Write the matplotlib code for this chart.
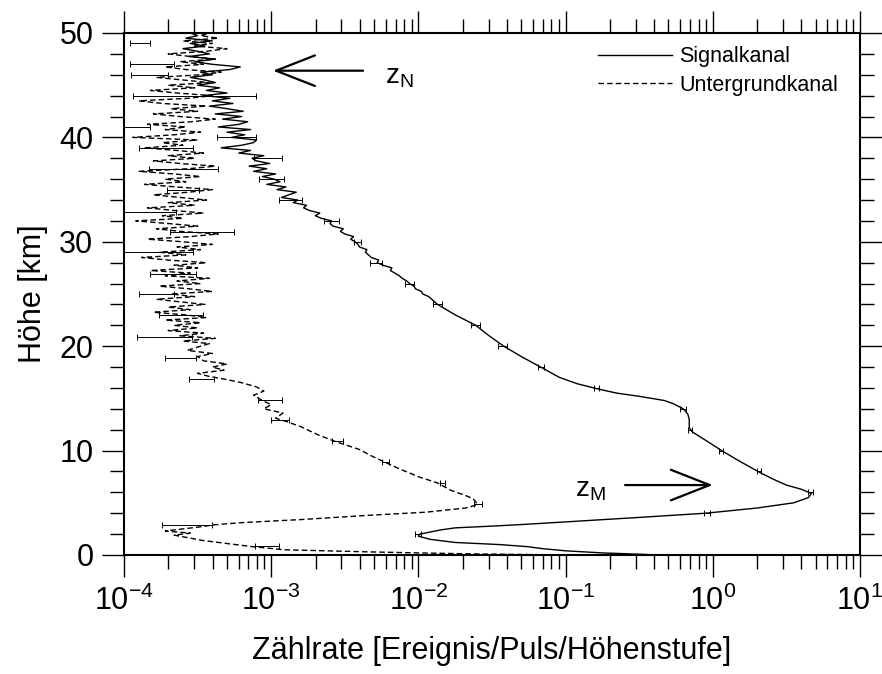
import numpy as np
import matplotlib
matplotlib.use("Agg")
import matplotlib.pyplot as plt
from matplotlib.ticker import LogLocator, MultipleLocator, LogFormatterMathtext, NullFormatter

plt.rcParams['font.family'] = ['Liberation Sans', 'DejaVu Sans']
plt.rcParams['mathtext.fontset'] = 'custom'
plt.rcParams['mathtext.rm'] = 'Liberation Sans'
plt.rcParams['mathtext.it'] = 'Liberation Sans'

# ---------------- data (log10 of count rate) ----------------
sig_z_lower = [0.0, 0.1, 0.2, 0.4, 0.6, 0.8, 1.0, 1.2, 1.5, 1.8, 2.0, 2.2, 2.4, 2.6, 2.8,
               3.0, 3.3, 3.6, 4.0, 4.5, 5.0, 5.5, 5.9, 6.3, 6.7, 7.2, 7.9, 9.0, 10.0,
               11.0, 11.8, 12.2, 13.0, 13.5, 14.0, 14.5, 14.8, 15.2, 15.5, 15.9, 16.4,
               17.0, 18.0, 19.0, 20.0, 21.0, 22.0, 23.0, 24.0]
sig_log_lower = [-0.35, -0.55, -0.75, -1.0, -1.15, -1.26, -1.45, -1.75, -1.92, -2.0, -1.99,
                 -1.92, -1.85, -1.75, -1.45, -1.2, -0.85, -0.5, -0.05, 0.3, 0.55, 0.65,
                 0.67, 0.6, 0.5, 0.42, 0.32, 0.18, 0.06, -0.05, -0.14, -0.16, -0.16, -0.17,
                 -0.20, -0.27, -0.33, -0.5, -0.65, -0.78, -0.92, -1.04, -1.17, -1.3, -1.42,
                 -1.52, -1.61, -1.75, -1.87]
sig_log_upper = [-1.89, -1.91, -1.93,
                 -1.97, -1.98, -2.02, -2.03,
                 -2.06, -2.08, -2.11, -2.13,
                 -2.16, -2.19, -2.18, -2.24,
                 -2.28, -2.27, -2.32, -2.34,
                 -2.36, -2.35, -2.40, -2.41,
                 -2.43, -2.46, -2.44, -2.50,
                 -2.53, -2.51, -2.58, -2.60,
                 -2.59, -2.66, -2.70, -2.67,
                 -2.74, -2.78, -2.76, -2.85,
                 -2.82, -2.93, -2.88, -2.83,
                 -2.96, -2.90, -3.03, -2.94,
                 -2.98, -3.06, -2.97, -3.12,
                 -3.03, -3.15, -3.01, -3.10,
                 -3.13, -3.05, -3.22, -3.14,
                 -3.34, -3.20, -3.12, -3.10,
                 -3.27, -3.18, -3.30, -3.14,
                 -3.36, -3.22, -3.16, -3.33,
                 -3.20, -3.38, -3.19, -3.30,
                 -3.42, -3.26, -3.40, -3.28,
                 -3.46, -3.30, -3.44, -3.35,
                 -3.50, -3.38, -3.45, -3.55,
                 -3.40, -3.48, -3.28, -3.21,
                 -3.40, -3.52, -3.38, -3.56,
                 -3.42, -3.50, -3.60, -3.45,
                 -3.55, -3.40, -3.58, -3.50,
                 -3.55]

bg_z_lower = [0.0, 0.1, 0.2, 0.3, 0.5, 0.8, 1.1, 1.4, 1.7, 1.9, 2.1, 2.3, 2.5, 2.7, 2.9,
              3.1, 3.4, 3.8, 4.1, 4.5, 4.8, 5.1, 5.4, 5.7, 6.2, 6.9, 7.5, 8.2, 8.9, 9.5,
              10.1, 10.9, 11.5, 12.3, 12.8, 13.1, 13.6, 14.0, 14.4, 14.8, 15.3, 15.7,
              16.1, 16.5, 16.8, 17.1, 17.4, 17.7, 18.0, 18.3, 18.6, 19.0, 19.3, 19.6, 20.0]
bg_log_lower = [-1.0, -1.6, -2.0, -2.34, -2.91, -3.13, -3.30, -3.47, -3.58, -3.66, -3.55,
                -3.72, -3.60, -3.48, -3.38, -3.2, -2.79, -2.34, -1.95, -1.68, -1.60, -1.61,
                -1.63, -1.68, -1.78, -1.87, -2.0, -2.12, -2.23, -2.32, -2.40, -2.57, -2.68,
                -2.80, -2.90, -2.97, -2.92, -3.05, -3.00, -3.06, -3.12, -3.05, -3.10, -3.20,
                -3.30, -3.42, -3.50, -3.32, -3.40, -3.30, -3.46, -3.50, -3.40, -3.57, -3.48]
bg_log_upper = [-3.42, -3.60, -3.38,
                -3.62, -3.46, -3.70, -3.50,
                -3.66, -3.48, -3.72, -3.44,
                -3.58, -3.80, -3.55, -3.70,
                -3.45, -3.62, -3.78, -3.52,
                -3.68, -3.40, -3.56, -3.76,
                -3.48, -3.64, -3.42, -3.72,
                -3.55, -3.82, -3.50, -3.66,
                -3.44, -3.70, -3.88, -3.58,
                -3.76, -3.48, -3.64, -3.40,
                -3.60, -3.84, -3.55, -3.36,
                -3.62, -3.78, -3.50, -3.70,
                -3.92, -3.60, -3.74, -3.46,
                -3.66, -3.84, -3.52, -3.70,
                -3.44, -3.62, -3.80, -3.56,
                -3.40, -3.64, -3.86, -3.58,
                -3.72, -3.48, -3.66, -3.90,
                -3.56, -3.38, -3.62, -3.80,
                -3.52, -3.70, -3.46, -3.64,
                -3.86, -3.60, -3.74, -3.50,
                -3.94, -3.66, -3.48, -3.72,
                -3.58, -3.84, -3.54, -3.38,
                -3.62, -3.80, -3.50, -3.68,
                -3.44, -3.74, -3.90, -3.56,
                -3.40, -3.64, -3.82, -3.52,
                -3.70, -3.42, -3.60, -3.78,
                -3.48, -3.34, -3.58, -3.72,
                -3.46, -3.62, -3.38, -3.55,
                -3.70, -3.44, -3.30, -3.52,
                -3.40, -3.60, -3.36, -3.48,
                -3.42]

# error bars: height, lower and upper bound (log10)
sig_err_z = [2, 4, 6, 8, 10, 12, 14, 16, 18, 20, 22, 24, 26, 28, 30, 32, 34, 36, 38, 40, 44]
sig_err_lo = [-2.02, -0.06, 0.65, 0.30, 0.04, -0.17, -0.22, -0.81, -1.19, -1.46, -1.64, -1.90,
              -2.09, -2.33, -2.44, -2.64, -2.95, -3.08, -3.12, -3.37, -3.94]
sig_err_hi = [-1.98, -0.02, 0.68, 0.33, 0.07, -0.14, -0.18, -0.77, -1.15, -1.40, -1.58, -1.84,
              -2.03, -2.25, -2.39, -2.54, -2.79, -2.91, -2.93, -3.10, -3.10]
bg_err_z = [0.9, 2.9, 4.9, 6.9, 8.9, 10.9, 12.9, 14.85, 16.9, 18.9, 20.9, 23.0, 25.0, 26.9,
            29.0, 30.9, 32.9, 35.0, 37.0, 39.0, 41.0, 46.0, 47.0, 49.0]
bg_err_lo = [-3.11, -3.74, -1.62, -1.85, -2.25, -2.59, -3.00, -3.09, -3.56, -3.72, -3.91, -3.76,
             -3.90, -3.82, -4.05, -3.69, -4.05, -3.71, -3.83, -3.90, -4.05, -3.95, -3.96, -3.96]
bg_err_hi = [-2.95, -3.40, -1.57, -1.82, -2.20, -2.51, -2.88, -2.93, -3.39, -3.51, -3.54, -3.46,
             -3.66, -3.51, -3.53, -3.25, -3.65, -3.49, -3.36, -3.53, -3.82, -3.70, -3.66, -3.82]

x_ticks = [1e-4, 1e-3, 1e-2, 1e-1, 1e0, 1e1]
y_ticks = [0, 10, 20, 30, 40, 50]

# ---------------- assemble ----------------
sig_z = np.concatenate([sig_z_lower, 24.25 + 0.25 * np.arange(len(sig_log_upper))])
sig_x = 10.0 ** np.concatenate([sig_log_lower, sig_log_upper])
bg_z = np.concatenate([bg_z_lower, 20.25 + 0.25 * np.arange(len(bg_log_upper))])
bg_x = 10.0 ** np.concatenate([bg_log_lower, bg_log_upper])

fig = plt.figure(figsize=(8.82, 6.74), dpi=100)
ax = fig.add_axes([124 / 882, 1 - 555 / 674, 736 / 882, 522 / 674])

ax.plot(sig_x, sig_z, color='black', lw=1.0, label='Signalkanal')
ax.plot(bg_x, bg_z, color='black', lw=1.0, dashes=(4, 2.2), label='Untergrundkanal')


def draw_err(zs, lo, hi):
    lo_v = 10.0 ** np.array(lo)
    hi_v = 10.0 ** np.array(hi)
    c = (lo_v + hi_v) / 2
    ax.errorbar(c, zs, xerr=[c - lo_v, hi_v - c], fmt='none', ecolor='black',
                elinewidth=0.7, capsize=2.2, capthick=0.7)


draw_err(sig_err_z, sig_err_lo, sig_err_hi)
draw_err(bg_err_z, bg_err_lo, bg_err_hi)

ax.set_xscale('log')
ax.set_xlim(x_ticks[0], x_ticks[-1])
ax.set_ylim(y_ticks[0], y_ticks[-1])
ax.xaxis.set_major_locator(LogLocator(base=10, numticks=10))
ax.xaxis.set_minor_locator(LogLocator(base=10, subs=np.arange(2, 10), numticks=20))
ax.xaxis.set_major_formatter(LogFormatterMathtext())
ax.xaxis.set_minor_formatter(NullFormatter())
ax.set_yticks(y_ticks)
ax.yaxis.set_minor_locator(MultipleLocator(2))

ax.tick_params(which='both', direction='out', top=True, right=True, width=1.0,
               labelsize=22, pad=6)
ax.tick_params(which='major', length=16)
ax.tick_params(which='minor', length=10)
for s in ax.spines.values():
    s.set_linewidth(1.5)

ax.set_xlabel('Zählrate [Ereignis/Puls/Höhenstufe]', fontsize=22, labelpad=14)
ax.set_ylabel('Höhe [km]', fontsize=22, labelpad=8)

leg = ax.legend(loc='upper right', bbox_to_anchor=(0.97, 0.975), frameon=False,
                fontsize=15.5, handlelength=3.4, handletextpad=0.35, labelspacing=0.35,
                borderaxespad=0, borderpad=0)

arrow_kw = dict(arrowstyle='->,head_length=2.8,head_width=1.1', lw=1.6, color='black',
                mutation_scale=10, shrinkA=0, shrinkB=0)
ax.annotate('', xy=(10 ** -2.988, 46.39), xytext=(10 ** -2.376, 46.39), arrowprops=arrow_kw)
ax.annotate('', xy=(10 ** 0.0, 6.70), xytext=(10 ** -0.596, 6.70), arrowprops=arrow_kw)
ax.text(10 ** -2.227, 45.2, r'$\mathregular{z_N}$', fontsize=20, va='baseline', ha='left')
ax.text(10 ** -0.936, 5.56, r'$\mathregular{z_M}$', fontsize=20, va='baseline', ha='left')

fig.savefig('out.png', dpi=100)
